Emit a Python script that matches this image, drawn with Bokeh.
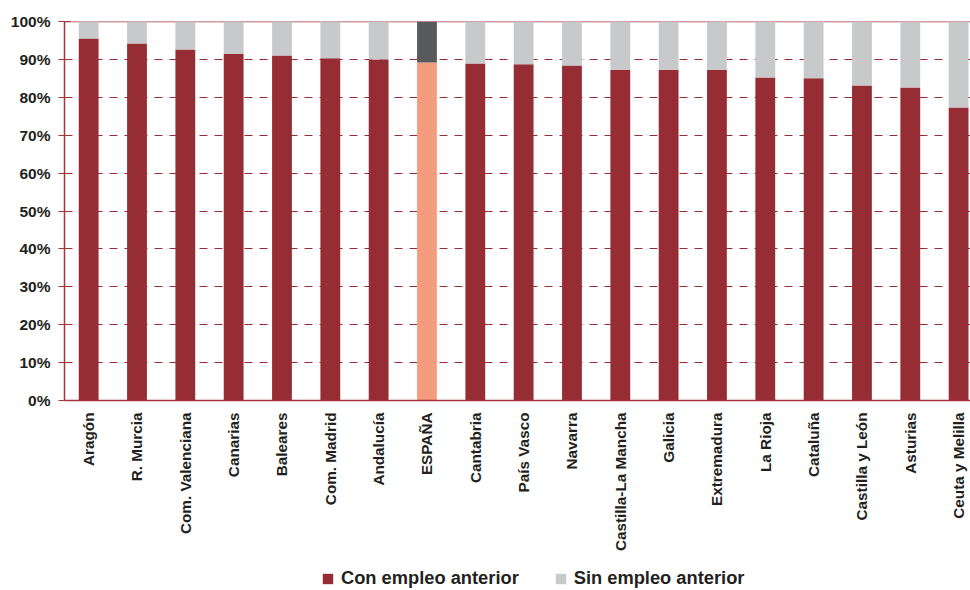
import math
from bokeh.plotting import figure
from bokeh.models import (ColumnDataSource, Range1d, FixedTicker, PrintfTickFormatter,
                          Span, Legend, LegendItem)
from bokeh.embed import file_html
from bokeh.resources import INLINE

regions = ["Aragón", "R. Murcia", "Com. Valenciana", "Canarias", "Baleares", "Com. Madrid",
           "Andalucía", "ESPAÑA", "Cantabria", "País Vasco", "Navarra", "Castilla-La Mancha",
           "Galicia", "Extremadura", "La Rioja", "Cataluña", "Castilla y León", "Asturias",
           "Ceuta y Melilla"]
con_empleo = [95.5, 94.2, 92.6, 91.4, 91.0, 90.3, 90.0, 89.2, 88.9, 88.7, 88.4, 87.3,
              87.3, 87.2, 85.2, 85.0, 83.1, 82.6, 77.3]
sin_empleo = [4.5, 5.8, 7.4, 8.6, 9.0, 9.7, 10.0, 10.8, 11.1, 11.3, 11.6, 12.7,
              12.7, 12.8, 14.8, 15.0, 16.9, 17.4, 22.7]
y_ticks = [0, 10, 20, 30, 40, 50, 60, 70, 80, 90, 100]

RED = "#962D35"
GRAY = "#C8C9CA"
HL_RED = "#F69C7E"
HL_GRAY = "#58595B"
AXIS = "#A3343C"
FONT = "Liberation Sans"

idx = list(range(len(regions)))
con_colors = [HL_RED if r == "ESPAÑA" else RED for r in regions]
sin_colors = [HL_GRAY if r == "ESPAÑA" else GRAY for r in regions]
total = [c + s for c, s in zip(con_empleo, sin_empleo)]

src = ColumnDataSource(dict(x=idx, con=con_empleo, sin_top=total,
                            con_color=con_colors, sin_color=sin_colors))

# frame spans from the 100% line down to the bottom of the page; the value axis covers 0-100
p = figure(frame_width=906, frame_height=569, output_backend="svg", toolbar_location=None,
           x_range=Range1d(-0.5, 18.246), y_range=Range1d(-50.13, 100),
           min_border_left=64, min_border_right=0, min_border_top=21, min_border_bottom=0)
p.outline_line_color = None
p.background_fill_color = "white"
p.border_fill_color = "white"

r_con = p.vbar(x="x", width=0.41, bottom=0, top="con", source=src,
               fill_color="con_color", line_color=None)
r_sin = p.vbar(x="x", width=0.41, bottom="con", top="sin_top", source=src,
               fill_color="sin_color", line_color=None)

top_line = Span(location=100, dimension="width", line_color=AXIS, line_width=1.5, level="underlay")
p.add_layout(top_line)

p.xgrid.grid_line_color = None
p.ygrid.ticker = FixedTicker(ticks=y_ticks[1:-1])
p.ygrid.grid_line_color = RED
p.ygrid.grid_line_dash = "8 7"
p.ygrid.grid_line_width = 1

p.yaxis.ticker = FixedTicker(ticks=y_ticks)
p.yaxis.bounds = (0, 100)
p.yaxis.formatter = PrintfTickFormatter(format="%d%%")
p.yaxis.axis_line_color = AXIS
p.yaxis.axis_line_width = 1.5
p.yaxis.major_tick_line_color = AXIS
p.yaxis.major_tick_line_width = 1.2
p.yaxis.major_tick_in = 6
p.yaxis.major_tick_out = 6
p.yaxis.minor_tick_line_color = None
p.yaxis.major_label_text_font = FONT
p.yaxis.major_label_text_font_style = "bold"
p.yaxis.major_label_text_font_size = "15.5px"
p.yaxis.major_label_text_color = "#231F20"
p.yaxis.major_label_standoff = 8

p.xaxis.fixed_location = 0
p.xaxis.ticker = FixedTicker(ticks=idx)
p.xaxis.major_label_overrides = {i: r for i, r in zip(idx, regions)}
p.xaxis.major_label_orientation = math.pi / 2
p.xaxis.axis_line_color = AXIS
p.xaxis.axis_line_width = 1.5
p.xaxis.major_tick_line_color = None
p.xaxis.major_tick_out = 0
p.xaxis.major_tick_in = 0
p.xaxis.minor_tick_line_color = None
p.xaxis.minor_tick_out = 0
p.xaxis.major_label_text_font = FONT
p.xaxis.major_label_text_font_style = "bold"
p.xaxis.major_label_text_font_size = "15.3px"
p.xaxis.major_label_text_color = "#231F20"
p.xaxis.major_label_standoff = 12

legend = Legend(items=[LegendItem(label="Con empleo anterior", renderers=[r_con], index=0),
                       LegendItem(label="Sin empleo anterior", renderers=[r_sin], index=0)],
                orientation="horizontal", location=(257, 1),
                label_text_font=FONT, label_text_font_style="bold",
                label_text_font_size="18.3px", label_text_color="#231F20",
                glyph_width=13, glyph_height=13, label_standoff=7, spacing=35,
                label_height=18,
                border_line_color=None, background_fill_alpha=0, margin=0, padding=0)
p.add_layout(legend, "center")

open("out.html", "w").write(file_html(p, INLINE))
